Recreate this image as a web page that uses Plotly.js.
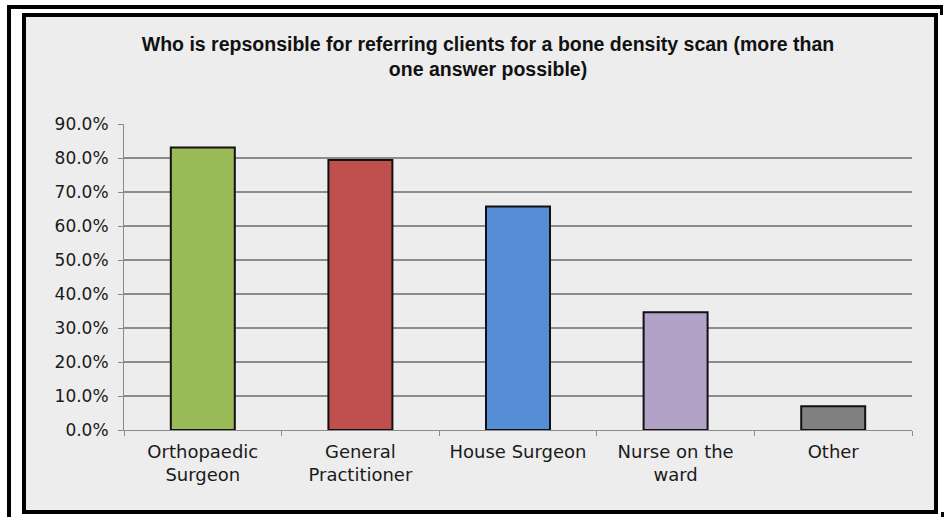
<!DOCTYPE html>
<html>
<head>
<meta charset="utf-8">
<script src="https://cdn.plot.ly/plotly-3.0.1.min.js"></script>
<style>
  html, body { margin:0; padding:0; background:#ffffff; }
  #wrap { position:relative; width:944px; height:517px; overflow:hidden; background:#ffffff; }
  .b { position:absolute; background:#000; }
  #inner { position:absolute; left:22px; top:13px; width:916px; height:501px; box-sizing:border-box; border:4px solid #000; background:#ededed; }
  #chart { position:absolute; left:0; top:0; width:944px; height:517px; }
</style>
</head>
<body>
<div id="wrap">
  <div class="b" style="left:7px;top:5px;width:934px;height:4px;"></div>
  <div class="b" style="left:7px;top:5px;width:4px;height:512px;"></div>
  <div class="b" style="left:940px;top:5px;width:3px;height:10px;"></div>
  <div class="b" style="left:941px;top:512px;width:3px;height:5px;"></div>
  <div id="inner"></div>
  <div id="chart"></div>
</div>
<script>
const categories = ['Orthopaedic<br>Surgeon', 'General<br>Practitioner', 'House Surgeon', 'Nurse on the<br>ward', 'Other'];
const percentages = [83.1, 79.4, 65.7, 34.6, 7.0];
const barColors = ['#9bbb59', '#c0504d', '#558ed5', '#b3a2c7', '#808080'];
const yTicks = [0, 10, 20, 30, 40, 50, 60, 70, 80, 90];
const yTickLabels = ['0.0%', '10.0%', '20.0%', '30.0%', '40.0%', '50.0%', '60.0%', '70.0%', '80.0%', '90.0%'];
const chartTitle = 'Who is repsonsible for referring clients for a bone density scan (more than<br>one answer possible)';

const trace = {
  type: 'bar',
  x: categories,
  y: percentages,
  marker: { color: barColors, line: { color: '#111111', width: 2 } },
  hoverinfo: 'skip'
};

const layout = {
  width: 944,
  height: 517,
  margin: { l: 124, r: 32, t: 124, b: 87 },
  paper_bgcolor: 'rgba(0,0,0,0)',
  plot_bgcolor: 'rgba(0,0,0,0)',
  showlegend: false,
  bargap: 0.594,
  title: {
    text: chartTitle,
    font: { family: 'Liberation Sans, Arial, sans-serif', size: 19.5, color: '#111111', weight: 'bold' },
    x: 488 / 944,
    xref: 'container',
    xanchor: 'center',
    y: 1 - 51 / 517,
    yref: 'container',
    yanchor: 'middle'
  },
  xaxis: {
    type: 'category',
    showline: true,
    linecolor: '#8a8a8a',
    linewidth: 1,
    ticks: 'outside',
    tickson: 'boundaries',
    ticklen: 5,
    tickcolor: '#8a8a8a',
    showgrid: false,
    ticklabelstandoff: 5,
    tickfont: { family: 'DejaVu Sans, sans-serif', size: 18, color: '#1a1a1a' }
  },
  yaxis: {
    range: [0, 90],
    tickmode: 'array',
    tickvals: yTicks,
    ticktext: yTickLabels,
    showline: true,
    linecolor: '#8a8a8a',
    linewidth: 1,
    ticks: 'outside',
    ticklen: 5,
    tickcolor: '#8a8a8a',
    showgrid: true,
    gridcolor: '#8c8c8c',
    gridwidth: 1.5,
    zeroline: false,
    ticklabelstandoff: 6,
    tickfont: { family: 'DejaVu Sans, sans-serif', size: 17, color: '#1a1a1a' }
  }
};

Plotly.newPlot('chart', [trace], layout, { displayModeBar: false, staticPlot: true });
</script>
</body>
</html>
